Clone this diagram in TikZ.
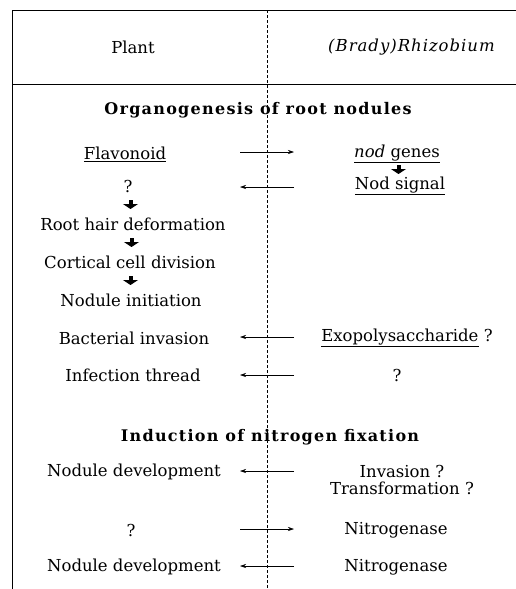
\documentclass[tikz,border=0pt]{standalone}
\usepackage{fontspec}
\setmainfont{DejaVu Serif}
\newfontfamily\headfont[LetterSpace=8]{DejaVu Serif}
\usetikzlibrary{arrows.meta,calc}

\tikzset{
  txt/.style={font=\fontsize{16.5}{17}\selectfont, inner sep=1pt},
  hdr/.style={font=\fontsize{16}{17}\selectfont\headfont\bfseries, inner sep=1pt},
  signal/.style={-{Stealth[length=6pt,width=4pt]}, line width=0.6pt},
  fatarrow/.style={-{Triangle[length=5pt,width=15pt]}, line width=4pt},
  frameline/.style={line width=0.9pt},
  divider/.style={line width=0.7pt, dash pattern=on 3pt off 2pt}
}

\begin{document}
\begin{tikzpicture}[x=1pt, y=-1pt]
  \useasboundingbox (0,0) rectangle (516,589);

  % frame and column divider
  \draw[frameline] (516,10) -- (12,10) -- (12,589);
  \draw[frameline] (12,84) -- (516,84);
  \draw[divider] (267,10) -- (267,589);

  % column heads
  \node[txt] (plant) at (133,47) {Plant};
  \node[txt] (rhizo) at (412,47) {\addfontfeatures{LetterSpace=6}\textit{(Brady)Rhizobium}};

  % organogenesis
  \node[hdr] (organo) at (258,110) {Organogenesis of root nodules};

  \node[txt] (flav) at (125,154) {\underline{Flavonoid}};
  \node[txt] (nodgenes) at (397,154) {\underline{\textit{nod} genes}};
  \node[txt] (nodsig) at (400,186) {\underline{Nod signal}};
  \node[txt] (qplant) at (128,186) {?};
  \node[txt] (rhd) at (133,224) {Root hair deformation};
  \node[txt] (ccd) at (130,262) {Cortical cell division};
  \node[txt] (nodinit) at (131,300) {Nodule initiation};
  \node[txt] (bactinv) at (134,338) {Bacterial invasion};
  \node[txt] (exo) at (407,338) {\underline{Exopolysaccharide} ?};
  \node[txt] (infth) at (133,375) {Infection thread};
  \node[txt] (qinf) at (397,375) {?};

  % thick steps, drawn short round the middle of each gap
  \foreach \a/\b in {nodgenes/nodsig, qplant/rhd, rhd/ccd, ccd/nodinit}
    \draw[fatarrow] ($(\a)!0.5!(\b)+(0,-5)$) -- ($(\a)!0.5!(\b)+(0,4)$);

  % nitrogen fixation
  \node[hdr] (induct) at (270,437) {Induction of nitrogen fixation};

  \node[txt] (noddev1) at (134,472) {Nodule development};
  \node[txt, align=center] (invtr) at (402,480) {Invasion ?\\Transformation ?};
  \node[txt] (qfix) at (131,530) {?};
  \node[txt] (nitro1) at (396,530) {Nitrogenase};
  \node[txt] (noddev2) at (134,567) {Nodule development};
  \node[txt] (nitro2) at (396,567) {Nitrogenase};

  % signals across the divider
  \coordinate (l1) at (240,152); \coordinate (r1) at (294,152);
  \coordinate (l2) at (240,187); \coordinate (r2) at (294,187);
  \coordinate (l3) at (240,337); \coordinate (r3) at (294,337);
  \coordinate (l4) at (240,375); \coordinate (r4) at (294,375);
  \coordinate (l5) at (240,471); \coordinate (r5) at (294,471);
  \coordinate (l6) at (240,529); \coordinate (r6) at (294,529);
  \coordinate (l7) at (240,566); \coordinate (r7) at (294,566);

  \draw[signal] (l1) -- (r1);
  \draw[signal] (r2) -- (l2);
  \draw[signal] (r3) -- (l3);
  \draw[signal] (r4) -- (l4);
  \draw[signal] (r5) -- (l5);
  \draw[signal] (l6) -- (r6);
  \draw[signal] (r7) -- (l7);
\end{tikzpicture}
\end{document}
